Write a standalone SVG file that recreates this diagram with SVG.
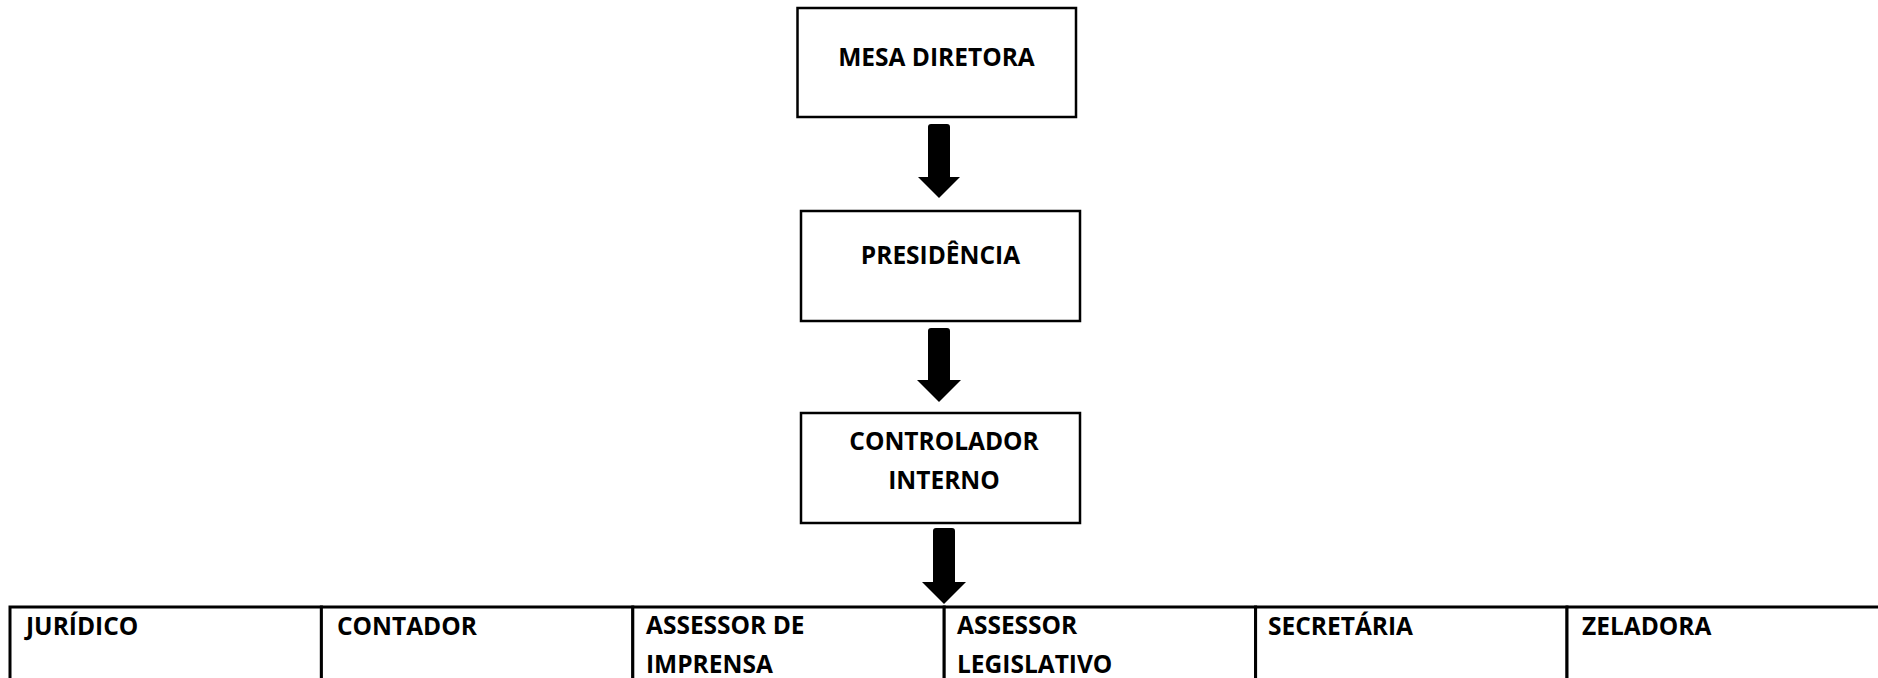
<svg xmlns="http://www.w3.org/2000/svg" width="1878" height="678" viewBox="0 0 1878 678">
<style>
.box{fill:#fff;stroke:#000;stroke-width:2.5}
.cell{fill:#fff;stroke:#000;stroke-width:3}
.t{font-family:"Open Sans","Noto Sans","Liberation Sans",sans-serif;font-weight:bold;font-size:24.5px;fill:#000}
.c{text-anchor:middle}
.arrow{fill:#000;stroke:none}
</style>
<rect width="1878" height="678" fill="#fff"/>
<g id="connectors">
<path class="arrow" d="M928,127 Q928,124 931,124 L947,124 Q950,124 950,127 L950,177 L960,177 L939,198 L918,177 L928,177 Z"/>
<path class="arrow" d="M928,331 Q928,328 931,328 L947,328 Q950,328 950,331 L950,380 L961,380 L939,402 L917,380 L928,380 Z"/>
<path class="arrow" d="M933,531 Q933,528 936,528 L952,528 Q955,528 955,531 L955,582 L966,582 L944,604 L922,582 L933,582 Z"/>
</g>
<g id="mesa-diretora">
<rect class="box" x="797.5" y="8" width="278.5" height="109"/>
<text class="t c" x="936.5" y="66">MESA DIRETORA</text>
</g>
<g id="presidencia">
<rect class="box" x="801" y="211" width="279" height="110"/>
<text class="t c" x="940.5" y="264">PRESIDÊNCIA</text>
</g>
<g id="controlador-interno">
<rect class="box" x="801" y="413" width="279" height="110"/>
<text class="t c" x="944" y="450">CONTROLADOR</text>
<text class="t c" x="944" y="489">INTERNO</text>
</g>
<g id="juridico">
<rect class="cell" x="10" y="607" width="311.4" height="100"/>
<text class="t" x="26" y="635">JURÍDICO</text>
</g>
<g id="contador">
<rect class="cell" x="321.4" y="607" width="311.4" height="100"/>
<text class="t" x="337" y="635">CONTADOR</text>
</g>
<g id="assessor-imprensa">
<rect class="cell" x="632.8" y="607" width="311.4" height="100"/>
<text class="t" x="646" y="634">ASSESSOR DE</text>
<text class="t" x="646" y="673">IMPRENSA</text>
</g>
<g id="assessor-legislativo">
<rect class="cell" x="944.2" y="607" width="311.4" height="100"/>
<text class="t" x="957" y="634">ASSESSOR</text>
<text class="t" x="957" y="673">LEGISLATIVO</text>
</g>
<g id="secretaria">
<rect class="cell" x="1255.6" y="607" width="311.4" height="100"/>
<text class="t" x="1268" y="635">SECRETÁRIA</text>
</g>
<g id="zeladora">
<rect class="cell" x="1567" y="607" width="320" height="100"/>
<text class="t" x="1582" y="635">ZELADORA</text>
</g>
</svg>
